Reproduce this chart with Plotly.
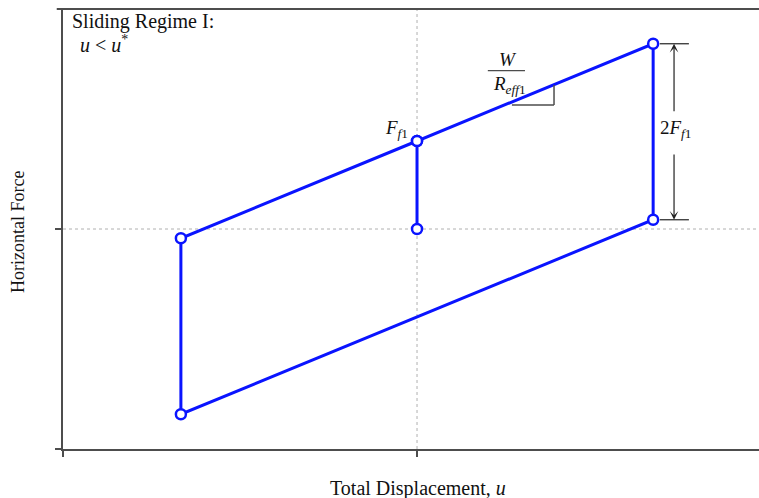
import plotly.graph_objects as go

# Hysteresis loop of the sliding bearing (regime I)
loop_u = [0.0, 0.0, 0.667, 0.667, -0.667, -0.667, 0.0]
loop_f = [0.0, 0.40, 0.842, 0.042, -0.842, -0.042, 0.40]

x_ticks = [-1, 0]
y_ticks = [-1, 0]

BLUE = "#0a14ff"
AXIS = "#4d4d4d"
SERIF = "Liberation Serif, Times New Roman, serif"

fig = go.Figure()

fig.add_trace(go.Scatter(
    x=loop_u, y=loop_f, mode="lines+markers",
    line=dict(color=BLUE, width=3),
    marker=dict(symbol="circle", size=10, color="white",
                line=dict(color=BLUE, width=2.5)),
    hoverinfo="skip", showlegend=False, cliponaxis=False,
))

shapes = []
# dotted reference lines through the origin
shapes.append(dict(type="line", xref="x", yref="y", x0=0, x1=0, y0=-1, y1=1,
                   line=dict(color="#b0b0b0", width=1, dash="dot"), layer="below"))
shapes.append(dict(type="line", xref="paper", yref="y", x0=0, x1=1, y0=0, y1=0,
                   line=dict(color="#b0b0b0", width=1, dash="dot"), layer="below"))
# top frame line
shapes.append(dict(type="line", xref="paper", yref="paper", x0=-0.009, x1=1, y0=1, y1=1,
                   line=dict(color=AXIS, width=2)))
# slope triangle
shapes.append(dict(type="line", xref="x", yref="y", x0=0.268, x1=0.387, y0=0.564, y1=0.564,
                   line=dict(color=AXIS, width=1.5)))
shapes.append(dict(type="line", xref="x", yref="y", x0=0.387, x1=0.387, y0=0.564, y1=0.655,
                   line=dict(color=AXIS, width=1.5)))
# fraction bar for W / R_eff1
shapes.append(dict(type="line", xref="x", yref="y", x0=0.20, x1=0.305, y0=0.72, y1=0.72,
                   line=dict(color=AXIS, width=1.2)))
# dimension marks for 2F_f1
shapes.append(dict(type="line", xref="x", yref="y", x0=0.686, x1=0.768, y0=0.842, y1=0.842,
                   line=dict(color="#222", width=1.2)))
shapes.append(dict(type="line", xref="x", yref="y", x0=0.686, x1=0.768, y0=0.042, y1=0.042,
                   line=dict(color="#222", width=1.2)))

annotations = []


def txt(x, y, text, size=20, xanchor="center", xref="x", yref="y", angle=0):
    annotations.append(dict(x=x, y=y, xref=xref, yref=yref, text=text, showarrow=False,
                            xanchor=xanchor, yanchor="middle", textangle=angle,
                            font=dict(family=SERIF, size=size, color="#111")))


txt(0.010, 0.972, "Sliding Regime I:", xanchor="left", xref="paper", yref="paper")
txt(0.021, 0.92, "<i>u</i> &lt; <i>u</i><sup>*</sup>", xanchor="left", xref="paper", yref="paper")
txt(-0.058, 0.455, "<i>F</i><sub><i>f</i>1</sub>", size=19)
txt(0.258, 0.77, "<i>W</i>", size=19)
txt(0.26, 0.655, "<i>R</i><sub><i>eff</i>1</sub>", size=19)
txt(0.729, 0.455, "2<i>F</i><sub><i>f</i>1</sub>", size=19)

# arrows of the dimension line
annotations.append(dict(x=0.726, y=0.842, ax=0.726, ay=0.528, xref="x", yref="y",
                        axref="x", ayref="y", text="", showarrow=True, arrowhead=3,
                        arrowsize=1.2, arrowwidth=1.2, arrowcolor="#222"))
annotations.append(dict(x=0.726, y=0.042, ax=0.726, ay=0.345, xref="x", yref="y",
                        axref="x", ayref="y", text="", showarrow=True, arrowhead=3,
                        arrowsize=1.2, arrowwidth=1.2, arrowcolor="#222"))

# axis titles
txt((418 - 63) / 696, -(489 - 449) / 440, "Total Displacement, <i>u</i>",
    xref="paper", yref="paper")
txt(-(63 - 18) / 696, (449 - 232) / 440, "Horizontal Force", size=18,
    xref="paper", yref="paper", angle=-90)

fig.update_layout(
    width=759, height=498,
    margin=dict(l=63, r=0, t=9, b=49),
    paper_bgcolor="white", plot_bgcolor="white",
    shapes=shapes, annotations=annotations,
    xaxis=dict(range=[-1, 0.966], showgrid=False, zeroline=False, showline=True,
               linecolor=AXIS, linewidth=2, ticks="outside", tickvals=x_ticks,
               ticklen=6, tickwidth=2, tickcolor=AXIS, showticklabels=False),
    yaxis=dict(range=[-1, 1], showgrid=False, zeroline=False, showline=True,
               linecolor=AXIS, linewidth=2, ticks="outside", tickvals=y_ticks,
               ticklen=6, tickwidth=2, tickcolor=AXIS, showticklabels=False),
)

fig.write_html("out.html")
